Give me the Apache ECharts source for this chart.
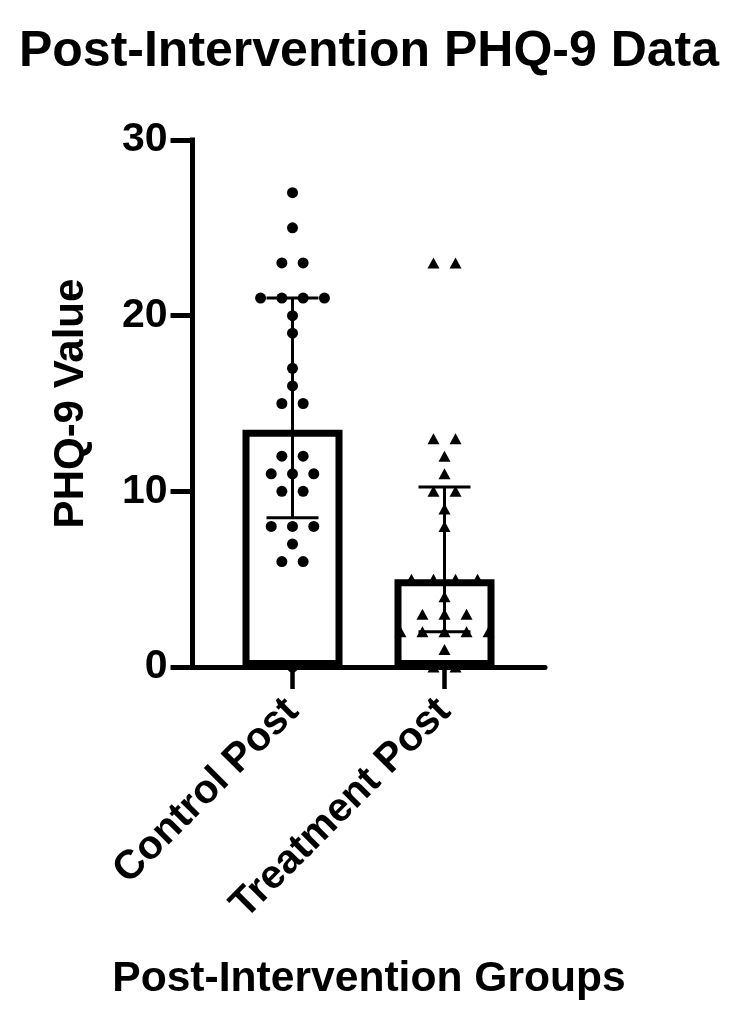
<!DOCTYPE html>
<html>
<head>
<meta charset="utf-8">
<style>
  html, body { margin: 0; padding: 0; background: #ffffff; }
  #chart { width: 738px; height: 1024px; }
</style>
<script src="https://cdn.jsdelivr.net/npm/echarts@6/dist/echarts.min.js"></script>
</head>
<body>
<div id="chart"></div>
<script>
// ---- data ----
const categories = ['Control Post', 'Treatment Post'];
const controlValues = [27, 25, 23, 23, 21, 21, 21, 21, 20, 19, 17, 16, 15, 15, 12, 12, 11, 11, 11, 10, 10, 8, 8, 8, 7, 6, 6, 0];
const treatmentValues = [23, 23, 13, 13, 12, 11, 10, 10, 9, 8, 5, 5, 5, 5, 4, 3, 3, 3, 2, 2, 2, 2, 2, 1, 0, 0];
const medians = [13.5, 5];
const lowerQuartiles = [8.5, 2];
const upperQuartiles = [21, 10.25];
const yTickValues = [0, 10, 20, 30];

// ---- layout / style constants ----
const FONT = 'Liberation Sans';
const BAR_OUTER_WIDTH = 100;
const BAR_BORDER = 7;
const CAP_HALF = 26;
const GRID_TOP = 140, GRID_BOTTOM = 357;

// beeswarm: spread equal values horizontally (x in category units)
function swarm(values, groupIndex, spacing) {
  const counts = {};
  values.forEach(v => { counts[v] = (counts[v] || 0) + 1; });
  const seen = {};
  return values.map(v => {
    const k = counts[v];
    const i = seen[v] = (seen[v] === undefined ? 0 : seen[v] + 1);
    return [groupIndex + (i - (k - 1) / 2) * spacing, v];
  });
}

const chart = echarts.init(document.getElementById('chart'), null, { renderer: 'canvas' });

const option = {
  backgroundColor: '#ffffff',
  animation: false,
  title: [
    {
      text: 'Post-Intervention PHQ-9 Data',
      left: 'center', top: 22,
      textStyle: { fontFamily: FONT, fontWeight: 'bold', fontSize: 50, color: '#000' }
    },
    {
      text: 'Post-Intervention Groups',
      left: 'center', top: 953,
      textStyle: { fontFamily: FONT, fontWeight: 'bold', fontSize: 42.6, color: '#000' }
    }
  ],
  grid: [
    { left: 192.5, width: 352.5, top: GRID_TOP, bottom: GRID_BOTTOM },
    { left: 216.5, width: 304, top: GRID_TOP, bottom: GRID_BOTTOM }
  ],
  xAxis: [
    {
      gridIndex: 0, type: 'value', min: 0, max: 1, z: 5,
      axisLine: { show: true, lineStyle: { color: '#000', width: 5 } },
      axisTick: { show: false }, axisLabel: { show: false }, splitLine: { show: false }
    },
    {
      gridIndex: 1, type: 'category', data: categories, position: 'bottom',
      axisLine: { show: false },
      axisTick: { show: true, alignWithLabel: true, length: 22, lineStyle: { color: '#000', width: 4.5 } },
      axisLabel: {
        rotate: 45, margin: 38, interval: 0,
        fontFamily: FONT, fontWeight: 'bold', fontSize: 40.5, color: '#000',
        padding: [0, 0, 0, 0]
      },
      splitLine: { show: false }
    },
    {
      gridIndex: 1, type: 'value', min: -0.5, max: 1.5, show: false
    }
  ],
  yAxis: [
    {
      gridIndex: 0, type: 'value', min: 0, max: 30, interval: 10,
      name: 'PHQ-9 Value', nameLocation: 'middle', nameGap: 100,
      nameTextStyle: { fontFamily: FONT, fontWeight: 'bold', fontSize: 42, color: '#000' },
      axisLine: { show: true, lineStyle: { color: '#000', width: 5, cap: 'square' } },
      axisTick: { show: true, length: 22, lineStyle: { color: '#000', width: 5 } },
      axisLabel: {
        margin: 25, fontFamily: FONT, fontWeight: 'bold', fontSize: 41, color: '#000',
        customValues: yTickValues
      },
      splitLine: { show: false }
    },
    {
      gridIndex: 1, type: 'value', min: 0, max: 30, show: false
    }
  ],
  series: [
    {
      type: 'scatter', name: categories[0], xAxisIndex: 2, yAxisIndex: 1,
      data: swarm(controlValues, 0, 0.14),
      symbol: 'circle', symbolSize: 11,
      itemStyle: { color: '#000', opacity: 1 }, z: 2
    },
    {
      type: 'scatter', name: categories[1], xAxisIndex: 2, yAxisIndex: 1,
      data: swarm(treatmentValues, 1, 0.145),
      symbol: 'triangle', symbolSize: [12, 11],
      itemStyle: { color: '#000', opacity: 1 }, z: 2
    },
    {
      type: 'custom', name: 'median', xAxisIndex: 2, yAxisIndex: 1, z: 3,
      data: medians.map((m, i) => [i, m]),
      renderItem: function (params, api) {
        const top = api.coord([api.value(0), api.value(1)]);
        const base = api.coord([api.value(0), 0]);
        const hw = BAR_OUTER_WIDTH / 2;
        const b = BAR_BORDER;
        return {
          type: 'rect',
          shape: {
            x: top[0] - hw + b / 2,
            y: top[1] + b / 2,
            width: BAR_OUTER_WIDTH - b,
            height: (base[1] - b / 2) - (top[1] + b / 2)
          },
          style: { fill: 'none', stroke: '#000', lineWidth: b }
        };
      }
    },
    {
      type: 'custom', name: 'IQR', xAxisIndex: 2, yAxisIndex: 1, z: 4,
      data: lowerQuartiles.map((q, i) => [i, q, upperQuartiles[i]]),
      renderItem: function (params, api) {
        const lo = api.coord([api.value(0), api.value(1)]);
        const hi = api.coord([api.value(0), api.value(2)]);
        const st = { stroke: '#000', lineWidth: 3 };
        return {
          type: 'group',
          children: [
            { type: 'line', shape: { x1: lo[0], y1: lo[1], x2: hi[0], y2: hi[1] }, style: st },
            { type: 'line', shape: { x1: lo[0] - CAP_HALF, y1: lo[1], x2: lo[0] + CAP_HALF, y2: lo[1] }, style: st },
            { type: 'line', shape: { x1: hi[0] - CAP_HALF, y1: hi[1], x2: hi[0] + CAP_HALF, y2: hi[1] }, style: st }
          ]
        };
      }
    }
  ]
};

chart.setOption(option);
</script>
</body>
</html>
